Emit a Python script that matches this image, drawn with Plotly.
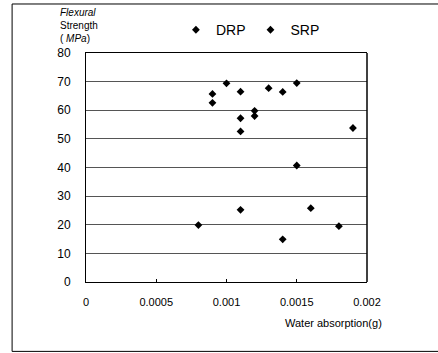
import plotly.graph_objects as go

# Data
drp_x = [0.0009, 0.0009, 0.0010, 0.0011, 0.0011, 0.0011, 0.0012, 0.0012, 0.0013, 0.0014, 0.0015]
drp_y = [65.7, 62.6, 69.4, 66.5, 57.2, 52.6, 59.8, 58.0, 67.7, 66.4, 69.5]
srp_x = [0.0008, 0.0011, 0.0014, 0.0015, 0.0016, 0.0018, 0.0019]
srp_y = [19.9, 25.2, 14.9, 40.7, 25.8, 19.5, 53.8]

x_ticks = [0, 0.0005, 0.001, 0.0015, 0.002]
x_ticklabels = ["0", "0.0005", "0.001", "0.0015", "0.002"]
y_ticks = [0, 10, 20, 30, 40, 50, 60, 70, 80]

font = "Liberation Sans, Arial, sans-serif"

fig = go.Figure()
fig.add_trace(go.Scatter(x=drp_x, y=drp_y, mode="markers", name="DRP",
                         marker=dict(symbol="diamond", size=6, color="black")))
fig.add_trace(go.Scatter(x=srp_x, y=srp_y, mode="markers", name="SRP",
                         marker=dict(symbol="diamond", size=6, color="black")))

fig.update_layout(
    width=438, height=353,
    margin=dict(l=86, r=71, t=53, b=71),
    paper_bgcolor="white", plot_bgcolor="white",
    font=dict(family=font, color="black"),
    showlegend=True,
    legend=dict(orientation="h", x=0.32, y=1.03, xanchor="left", yanchor="bottom",
                font=dict(size=14, family=font), bgcolor="rgba(0,0,0,0)",
                itemwidth=30, tracegroupgap=0),
    xaxis=dict(range=[0, 0.002], tickvals=x_ticks, ticktext=x_ticklabels,
               showgrid=False, zeroline=False, showline=True, linecolor="black",
               linewidth=1, mirror=True, ticks="inside", ticklen=3, tickcolor="black",
               tickfont=dict(size=11, family=font), ticklabelstandoff=10),
    yaxis=dict(range=[0, 80], tickvals=y_ticks, showgrid=True, gridcolor="#555555",
               gridwidth=1, zeroline=False, showline=True, linecolor="black",
               linewidth=1, mirror=False, ticks="", tickfont=dict(size=12, family=font),
               ticklabelstandoff=12),
    shapes=[
        dict(type="rect", xref="paper", yref="paper", x0=-0.263, x1=1.4,
             y0=-0.303, y1=1.214, line=dict(color="black", width=1)),
        dict(type="line", xref="paper", yref="paper", x0=1, x1=1, y0=0, y1=1,
             line=dict(color="black", width=1.5)),
    ],
    annotations=[
        dict(text="<i>Flexural</i><br>Strength<br>( <i>MPa</i>)", xref="paper", yref="paper",
             x=-0.095, y=1.205, xanchor="left", yanchor="top", showarrow=False, align="left",
             borderpad=0, font=dict(size=10, family=font)),
        dict(text="Water absorption(g)", xref="paper", yref="paper",
             x=1.06, y=-0.145, xanchor="right", yanchor="top", showarrow=False,
             font=dict(size=11, family=font)),
    ],
)

fig.write_html("out.html")
